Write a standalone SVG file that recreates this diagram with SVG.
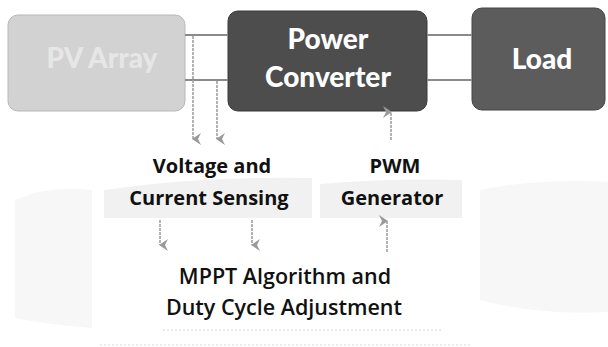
<svg xmlns="http://www.w3.org/2000/svg" width="608" height="347" viewBox="0 0 608 347">
<style>
.box-light{fill:#d2d2d2;stroke:#b8b8b8;stroke-width:1}
.box-dark{fill:#4d4d4d;stroke:#3a3a3a;stroke-width:1}
.box-load{fill:#5c5c5c;stroke:#444;stroke-width:1}
.boxtxt{font-family:Lato,"Liberation Sans",sans-serif;font-weight:900;fill:#ffffff;text-anchor:middle;font-size:28px}
.lbl{font-family:"Open Sans","Liberation Sans",sans-serif;font-weight:700;fill:#111;text-anchor:middle;font-size:20px}
.lbl2{font-family:"Open Sans","Liberation Sans",sans-serif;font-weight:600;fill:#111;text-anchor:middle;font-size:21.5px}
.wire{stroke:#8a8a8a;stroke-width:2;fill:none}
.arr{stroke:#a0a0a0;stroke-width:1.6;fill:none;stroke-dasharray:3 1}
.band{fill:#f1f1f1}
.blob{fill:#f7f7f7}
.faint{stroke:#d8d8d8;stroke-width:1.2;stroke-dasharray:2 2;fill:none}
</style>
<defs>
<marker id="ah" viewBox="0 0 12 12" refX="6" refY="11" markerWidth="12" markerHeight="12" markerUnits="userSpaceOnUse" orient="auto-start-reverse">
<path d="M0,3 L6,12 L12,3 L6,6 Z" fill="#9a9a9a"/>
</marker>
</defs>
<g id="background">
<path class="blob" d="M15,200 Q50,185 92,190 L92,328 Q50,325 15,318 Z"/>
<path class="blob" d="M480,190 Q540,178 608,182 L608,312 Q540,316 480,300 Z"/>
<path class="band" d="M104,190 Q200,176 312,178 L312,218 L104,218 Z"/>
<path class="band" d="M320,184 Q390,178 462,180 L462,218 L320,218 Z"/>
<path class="faint" d="M163,330 L443,330"/>
<path class="faint" d="M100,345 L470,345"/>
</g>
<g id="pv-array">
<rect class="box-light" x="8" y="15" width="177" height="96" rx="10"/>
<text class="boxtxt" x="102" y="68" font-size="24" style="fill:#e6e6e6">PV Array</text>
</g>
<g id="power-converter">
<rect class="box-dark" x="228" y="11" width="199" height="100" rx="10"/>
<text class="boxtxt" x="328" y="49">Power</text>
<text class="boxtxt" x="328" y="87">Converter</text>
</g>
<g id="load">
<rect class="box-load" x="472" y="8" width="133" height="102" rx="10"/>
<text class="boxtxt" x="542" y="69">Load</text>
</g>
<g id="sensing">
<text class="lbl" x="212" y="173">Voltage and</text>
<text class="lbl" x="209" y="205">Current Sensing</text>
</g>
<g id="pwm">
<text class="lbl" x="395" y="173">PWM</text>
<text class="lbl" x="392" y="205">Generator</text>
</g>
<g id="mppt">
<text class="lbl2" x="285" y="284">MPPT Algorithm and</text>
<text class="lbl2" x="284" y="315">Duty Cycle Adjustment</text>
</g>
<g id="connectors">
<path class="wire" d="M185,35 L228,35"/>
<path class="wire" d="M185,80 L228,80"/>
<path class="wire" d="M427,35 L472,35"/>
<path class="wire" d="M427,80 L472,80"/>
<path class="arr" d="M193,36 L193,139" marker-end="url(#ah)"/>
<path class="arr" d="M217,81 L217,139" marker-end="url(#ah)"/>
<path class="arr" d="M391,140 L391,112" marker-end="url(#ah)"/>
<path class="arr" d="M160,220 L160,245" marker-end="url(#ah)"/>
<path class="arr" d="M252,220 L252,245" marker-end="url(#ah)"/>
<path class="arr" d="M387,252 L387,221" marker-end="url(#ah)"/>
</g>
</svg>
